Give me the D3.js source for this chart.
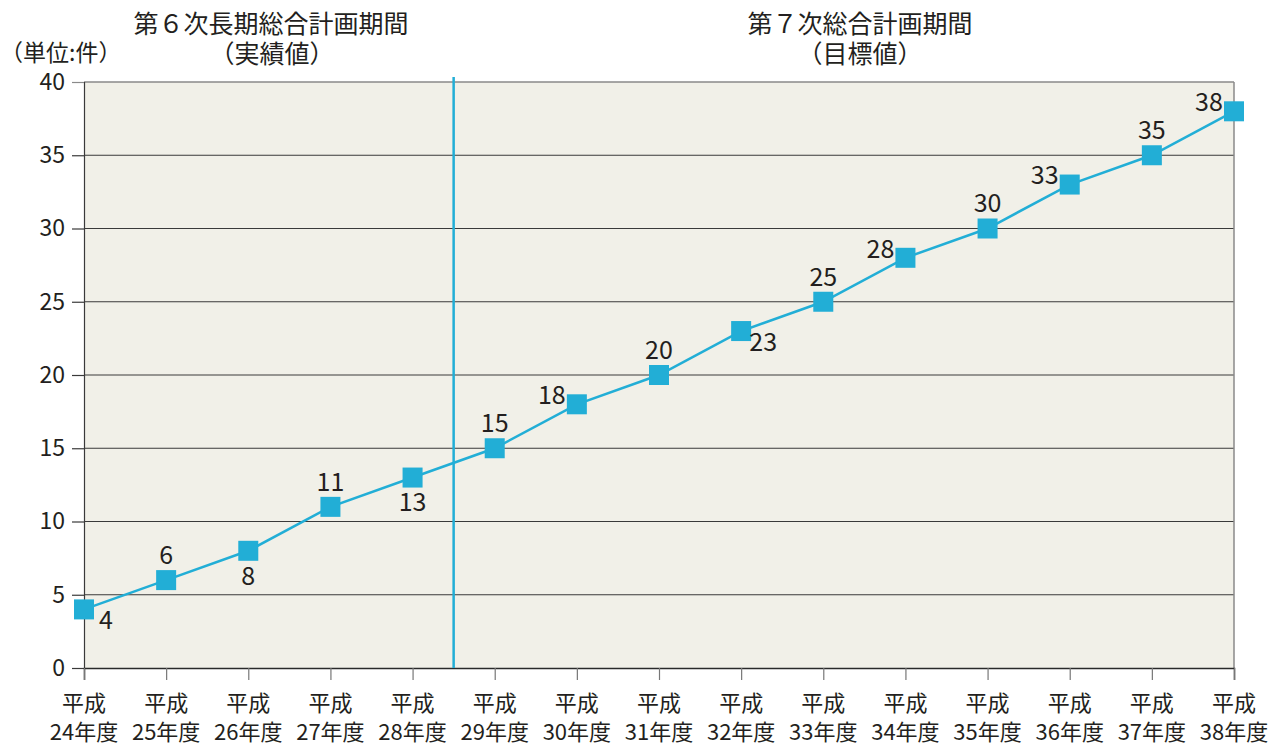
<!DOCTYPE html>
<html>
<head>
<meta charset="utf-8">
<script src="https://d3js.org/d3.v7.min.js"></script>
<style>
body { margin: 0; background: #fff; }
svg text { font-family: "Noto Sans CJK JP", "Noto Sans", sans-serif; fill: #231f20; }
</style>
</head>
<body>
<svg id="chart" width="1281" height="745"></svg>
<script>
// データ
var years = ['24', '25', '26', '27', '28', '29', '30', '31', '32', '33', '34', '35', '36', '37', '38']
var values = [4, 6, 8, 11, 13, 15, 18, 20, 23, 25, 28, 30, 33, 35, 38]
// ラベル位置 (a:上, b:下, br:右下, al:左上)
var labelPos = ['br', 'a', 'b', 'a', 'b', 'a', 'al', 'a', 'br', 'a', 'al', 'a', 'al', 'a', 'al']
var yTicks = [0, 5, 10, 15, 20, 25, 30, 35, 40]

var mLeft = 84, mRight = 1234, mTop = 82, mBottom = 668
var blue = '#22aed6'

var svg = d3.select('#chart')

var x = d3.scalePoint().domain(years).range([mLeft, mRight]).padding(0)
var y = d3.scaleLinear().domain([0, 40]).range([mBottom, mTop])

// 背景
svg.append('rect')
    .attr('x', mLeft).attr('y', mTop)
    .attr('width', mRight - mLeft).attr('height', mBottom - mTop)
    .attr('fill', '#f1f0e8')

// グリッド
svg.append('g').selectAll('line').data(yTicks.filter(function (d) { return d > 0 && d < 40 })).enter()
    .append('line')
    .attr('x1', mLeft).attr('x2', mRight)
    .attr('y1', function (d) { return y(d) }).attr('y2', function (d) { return y(d) })
    .attr('stroke', '#3a3a3a').attr('stroke-width', 1)

// 枠 (上・右は灰色)
svg.append('line').attr('x1', mLeft).attr('x2', mRight).attr('y1', mTop).attr('y2', mTop)
    .attr('stroke', '#8a8a8a').attr('stroke-width', 1.5)
svg.append('line').attr('x1', mRight).attr('x2', mRight).attr('y1', mTop).attr('y2', mBottom)
    .attr('stroke', '#8a8a8a').attr('stroke-width', 1.5)

// Y軸
var yAxis = svg.append('g')
    .attr('transform', 'translate(' + mLeft + ',0)')
    .call(d3.axisLeft(y).tickValues(yTicks).tickSize(12).tickPadding(7))
yAxis.select('.domain').attr('stroke', '#3a3a3a').attr('stroke-width', 1.2)
yAxis.selectAll('.tick line').attr('stroke', function (d) { return d == 40 ? '#8a8a8a' : '#3a3a3a' }).attr('stroke-width', 1.2)
yAxis.selectAll('.tick text').attr('font-size', 23).attr('fill', '#231f20')
    .style('font-family', '"Noto Sans CJK JP", sans-serif')

// X軸
var xAxis = svg.append('g')
    .attr('transform', 'translate(0,' + mBottom + ')')
    .call(d3.axisBottom(x).tickSize(12).tickFormat(''))
xAxis.select('.domain').attr('stroke', '#2a2a2a').attr('stroke-width', 1.5)
xAxis.selectAll('.tick line').attr('stroke', '#777').attr('stroke-width', 1.2)

var xl = svg.append('g').selectAll('text').data(years).enter()
    .append('text')
    .attr('text-anchor', 'middle')
    .attr('font-size', 22)
xl.append('tspan').attr('x', function (d) { return x(d) }).attr('y', 711).text('平成')
xl.append('tspan').attr('x', function (d) { return x(d) }).attr('y', 740).text(function (d) { return d + '年度' })

// 期間区切り線
svg.append('line')
    .attr('x1', (x('28') + x('29')) / 2).attr('x2', (x('28') + x('29')) / 2)
    .attr('y1', 77).attr('y2', mBottom)
    .attr('stroke', blue).attr('stroke-width', 2.5)

// 折れ線
var line = d3.line()
    .x(function (d, i) { return x(years[i]) })
    .y(function (d) { return y(d) })
svg.append('path').datum(values)
    .attr('d', line)
    .attr('fill', 'none')
    .attr('stroke', blue)
    .attr('stroke-width', 2.5)

svg.append('g').selectAll('rect').data(values).enter()
    .append('rect')
    .attr('x', function (d, i) { return x(years[i]) - 10 })
    .attr('y', function (d) { return y(d) - 10 })
    .attr('width', 20).attr('height', 20)
    .attr('fill', blue)

// 値ラベル
var off = {
    a: [0, -25], b: [0, 25], br: [22, 11], al: [-25, -9]
}
svg.append('g').selectAll('text').data(values).enter()
    .append('text')
    .attr('x', function (d, i) { return x(years[i]) + off[labelPos[i]][0] })
    .attr('y', function (d, i) { return y(d) + off[labelPos[i]][1] })
    .attr('dy', '0.35em')
    .attr('text-anchor', 'middle')
    .attr('font-size', 25)
    .text(function (d) { return d })

// タイトル
svg.append('text').attr('x', 0).attr('y', 61).attr('font-size', 23).text('（単位:件）')
svg.append('text').attr('x', 271).attr('y', 33).attr('font-size', 25).attr('text-anchor', 'middle').text('第６次長期総合計画期間')
svg.append('text').attr('x', 272).attr('y', 63).attr('font-size', 25).attr('text-anchor', 'middle').text('（実績値）')
svg.append('text').attr('x', 860).attr('y', 33).attr('font-size', 25).attr('text-anchor', 'middle').text('第７次総合計画期間')
svg.append('text').attr('x', 860).attr('y', 63).attr('font-size', 25).attr('text-anchor', 'middle').text('（目標値）')
</script>
</body>
</html>
